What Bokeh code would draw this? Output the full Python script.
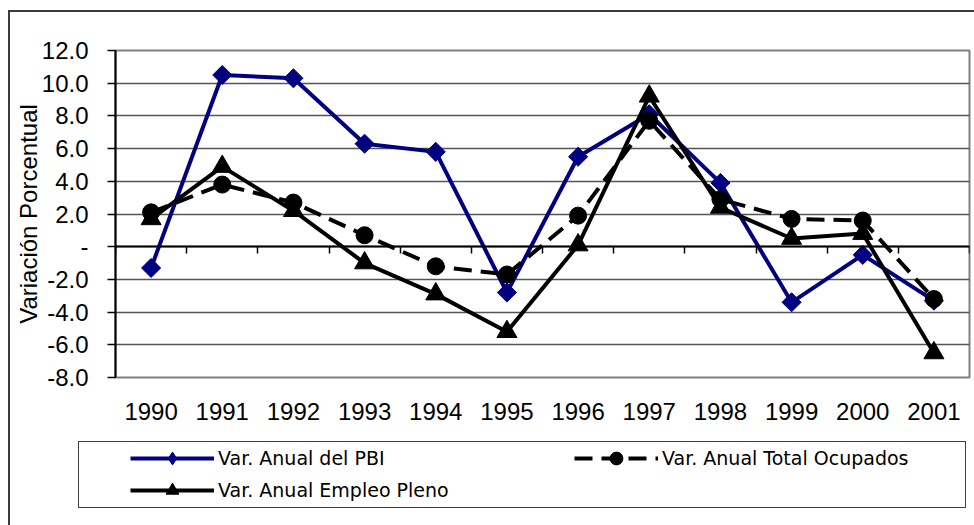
from bokeh.plotting import figure
from bokeh.layouts import column
from bokeh.models import (FixedTicker, LinearAxis, Legend, LegendItem, Range1d,
                          CustomJSTickFormatter, InlineStyleSheet)
from bokeh.embed import file_html
from bokeh.resources import INLINE

years = [1990, 1991, 1992, 1993, 1994, 1995, 1996, 1997, 1998, 1999, 2000, 2001]
pbi = [-1.3, 10.5, 10.3, 6.3, 5.8, -2.8, 5.5, 8.1, 3.9, -3.4, -0.5, -3.3]
ocupados = [2.1, 3.8, 2.7, 0.7, -1.2, -1.7, 1.9, 7.7, 2.9, 1.7, 1.6, -3.2]
pleno = [1.7, 4.9, 2.2, -1.0, -2.9, -5.2, 0.1, 9.2, 2.4, 0.5, 0.8, -6.5]
y_ticks = [-8, -6, -4, -2, 0, 2, 4, 6, 8, 10, 12]
y_labels = ["-8.0", "-6.0", "-4.0", "-2.0", "-", "2.0", "4.0", "6.0", "8.0", "10.0", "12.0"]
series_names = ["Var. Anual del PBI", "Var. Anual Total Ocupados", "Var. Anual Empleo Pleno"]
y_title = "Variación Porcentual"

FONT = "Liberation Sans"
LFONT = "DejaVu Sans"
NAVY = "#000080"
styles = [
    dict(line_color=NAVY, line_width=4, marker="square", size=13.5, angle=0.785398, dash="solid",
         legend_marker="diamond"),
    dict(line_color="black", line_width=4, marker="circle", size=17, angle=0.0, dash="18 9",
         legend_marker="circle"),
    dict(line_color="black", line_width=4, marker="triangle", size=20, angle=0.0, dash="solid",
         legend_marker="triangle"),
]
series = [pbi, ocupados, pleno]

TOP_H = 441
p = figure(width=974, height=TOP_H, output_backend="svg", toolbar_location=None,
           x_range=Range1d(years[0] - 0.5, years[-1] + 0.5), y_range=Range1d(-8, 12),
           min_border_left=115, min_border_right=5, min_border_top=50, min_border_bottom=TOP_H - 377)
p.background_fill_color = "white"
p.border_fill_color = "white"
p.outline_line_color = "#808080"
p.outline_line_width = 2

# x axis (labels only)
p.xaxis.ticker = FixedTicker(ticks=years)
p.xaxis.major_label_overrides = {y: str(y) for y in years}
p.xaxis.axis_line_color = None
p.xaxis.major_tick_line_color = None
p.xaxis.major_tick_out = 0
p.xaxis.major_tick_in = 0
p.xaxis.minor_tick_line_color = None
p.xaxis.major_label_standoff = 25
p.xaxis.major_label_text_font = FONT
p.xaxis.major_label_text_font_size = "24px"
p.xaxis.major_label_text_color = "black"

# zero axis with boundary ticks
bounds = [y - 0.5 for y in years] + [years[-1] + 0.5]
zaxis = LinearAxis(fixed_location=0, ticker=FixedTicker(ticks=bounds),
                   formatter=CustomJSTickFormatter(code="return ''"),
                   axis_line_color="black", axis_line_width=2,
                   major_tick_in=0, major_tick_out=7, major_tick_line_width=1.5,
                   major_tick_line_color="black", minor_tick_line_color=None,
                   major_label_text_font_size="1px", major_label_standoff=0)
p.add_layout(zaxis, "below")

# y axis
p.yaxis.ticker = FixedTicker(ticks=y_ticks)
p.yaxis.major_label_overrides = dict(zip(y_ticks, y_labels))
p.yaxis.axis_line_color = "black"
p.yaxis.axis_line_width = 2
p.yaxis.major_tick_in = 0
p.yaxis.major_tick_out = 8
p.yaxis.major_tick_line_width = 1.5
p.yaxis.major_tick_line_color = "black"
p.yaxis.minor_tick_line_color = None
p.yaxis.major_label_standoff = 19
p.yaxis.major_label_text_font = FONT
p.yaxis.major_label_text_font_size = "24px"
p.yaxis.major_label_text_color = "black"
p.yaxis.axis_label = y_title
p.yaxis.axis_label_text_font = FONT
p.yaxis.axis_label_text_font_size = "24px"
p.yaxis.axis_label_text_font_style = "normal"
p.yaxis.axis_label_text_color = "black"
p.yaxis.axis_label_standoff = -3

p.xgrid.visible = False
p.ygrid.ticker = FixedTicker(ticks=y_ticks)
p.ygrid.grid_line_color = "#555555"
p.ygrid.grid_line_width = 1.5

for vals, st in zip(series, styles):
    p.line(years, vals, line_color=st["line_color"], line_width=st["line_width"], line_dash=st["dash"])
    p.scatter(years, vals, marker=st["marker"], size=st["size"], angle=st["angle"], color=st["line_color"])

# legend panel (its frame is aligned with the chart's frame)
p2 = figure(width=974, height=525 - TOP_H, output_backend="svg", toolbar_location=None,
            x_range=Range1d(0, 1), y_range=Range1d(0, 1),
            x_axis_location=None, y_axis_location=None,
            min_border_left=115, min_border_right=5, min_border_top=0,
            min_border_bottom=525 - 508)
p2.xgrid.visible = False
p2.ygrid.visible = False
p2.outline_line_color = None
p2.background_fill_color = "white"
p2.border_fill_color = "white"

rend = {}
for name, vals, st in zip(series_names, series, styles):
    # one point, outside this panel's ranges: only used to draw the legend glyph
    lr = p2.line(x=years[:1], y=vals[:1], line_color=st["line_color"], line_width=st["line_width"],
                 line_dash=st["dash"])
    sr = p2.scatter(x=years[:1], y=vals[:1], marker=st["legend_marker"], size=st["size"],
                    color=st["line_color"])
    rend[name] = [lr, sr]

order = [series_names[0], series_names[2], series_names[1]]  # column-major fill
legend = Legend(items=[LegendItem(label=n, renderers=rend[n]) for n in order],
                ncols=2, location=(15, 2), glyph_width=84, glyph_height=32,
                label_standoff=4, label_width=356, spacing=0, padding=2, margin=0,
                border_line_color=None, background_fill_alpha=0,
                label_text_font=LFONT, label_text_font_size="19px", label_text_color="black")
p2.add_layout(legend)

layout = column(p, p2, spacing=0)
layout.stylesheets = [InlineStyleSheet(css="""
:host { position: relative; }
:host::before { content: ""; position: absolute; left: 8px; top: 10px; right: 0px; bottom: 0px;
  border-left: 2px solid #3c3c3c; border-top: 2px solid #3c3c3c; z-index: 10; pointer-events: none; }
:host::after { content: ""; position: absolute; left: 78px; top: 441px; width: 888px; height: 67px;
  box-sizing: border-box; border: 1px solid #404040; z-index: 10; pointer-events: none; }
""")]

open("out.html", "w").write(file_html(layout, INLINE))
